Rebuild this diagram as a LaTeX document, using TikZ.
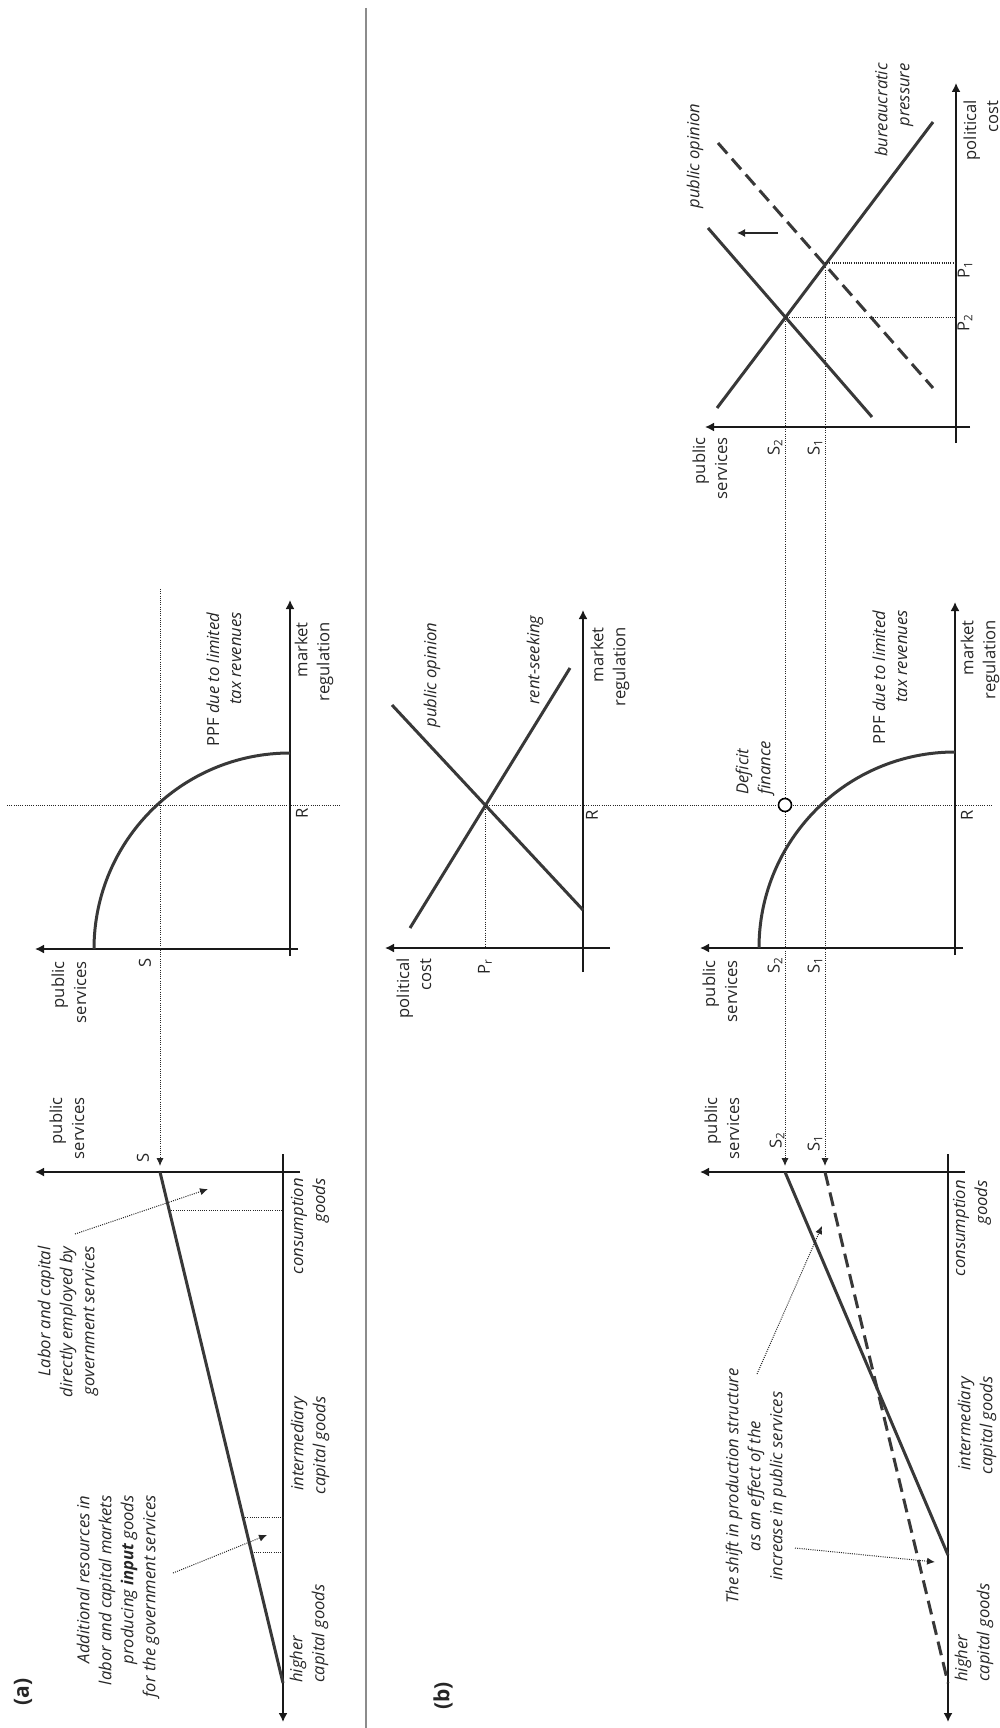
\documentclass[tikz,border=0pt]{standalone}
\usepackage{fontspec}
\setmainfont{Open Sans}
\usetikzlibrary{arrows.meta}
\newcommand{\figfs}{\fontsize{8.3}{11}\selectfont}
\begin{document}
\begin{tikzpicture}[x=0.5pt,y=-0.5pt,
  lbl/.style={rotate=90,inner sep=0pt,font=\figfs,text=black!85},
  ilbl/.style={lbl,font=\figfs\itshape},
  ax/.style={line width=0.8pt,black!90,-{Latex[length=4.5pt,width=4.5pt]}},
  curve/.style={line width=1.5pt,black!78},
  dcurve/.style={curve,dash pattern=on 7pt off 3.5pt},
  dot/.style={line width=0.5pt,black!85,dash pattern=on 0.5pt off 0.6pt},
  dotar/.style={dot,-{Latex[length=4pt,width=3.6pt]}},
]
\useasboundingbox (0,0) rectangle (1000,1728);

% divider
\coordinate (divT) at (366,8); \coordinate (divB) at (366,1728);
\draw[line width=1.1pt,black!45] (divT) -- (divB);

% ================= (a) production structure
\coordinate (aHo) at (300,1172); \coordinate (aHt) at (35,1172);
\coordinate (aVo) at (283,1154); \coordinate (aVt) at (283,1722);
\draw[ax] (aHo) -- (aHt);
\draw[ax] (aVo) -- (aVt);
\coordinate (aS) at (160,1172); \coordinate (aE) at (283,1683);
\draw[curve] (aS) -- (aE);
\coordinate (aD1a) at (169,1210); \coordinate (aD1b) at (283,1210);
\coordinate (aD2a) at (243,1517); \coordinate (aD2b) at (283,1517);
\coordinate (aD3a) at (251.5,1552); \coordinate (aD3b) at (283,1552);
\draw[dot] (aD1a) -- (aD1b);
\draw[dot] (aD2a) -- (aD2b);
\draw[dot] (aD3a) -- (aD3b);
\coordinate (aA1s) at (75,1234); \coordinate (aA1e) at (208,1189);
\coordinate (aA2s) at (173,1573); \coordinate (aA2e) at (267,1535);
\draw[dotar] (aA1s) -- (aA1e);
\draw[dotar] (aA2s) -- (aA2e);

\node[lbl,font=\fontsize{10.5}{12}\selectfont\bfseries] (labA) at (23,1692) {(a)};
\node[lbl,anchor=east,align=right] (aPS) at (67,1097) {public\\services};
\node[lbl] (aSl) at (143,1158) {S};
\node[ilbl,anchor=east,align=right] (aLab) at (68,1246) {Labor and capital\\directly employed by\\government services};
\node[ilbl,anchor=east,align=right] (aAdd) at (118,1495) {Additional resources in\\labor and capital markets\\producing \textbf{input} goods\\for the government services};
\node[ilbl,anchor=east,align=right] (aCons) at (310,1178) {consumption\\goods};
\node[ilbl,anchor=east,align=right] (aInt) at (310,1396) {intermediary\\capital goods};
\node[ilbl,anchor=west,align=left] (aHig) at (309,1683) {higher\\capital goods};

% ================= (a) PPF
\coordinate (pHo) at (298,949); \coordinate (pHt) at (35,949);
\coordinate (pVo) at (290,956); \coordinate (pVt) at (290,600);
\draw[ax] (pHo) -- (pHt);
\draw[ax] (pVo) -- (pVt);
\coordinate (pA) at (94,949); \coordinate (pB) at (290,753);
\draw[curve] (pA) .. controls (94,840.75) and (181.75,753) .. (pB);
\coordinate (pRl) at (7,805); \coordinate (pRr) at (340,805);
\draw[dot] (pRl) -- (pRr);
\coordinate (pSt) at (160,589); \coordinate (pSe) at (160,1166);
\draw[dotar] (pSt) -- (pSe);

\node[lbl,anchor=east,align=right] (pPS) at (69,961) {public\\services};
\node[lbl] (pSl) at (145,963) {S};
\node[lbl] (pRlab) at (302,813) {R};
\node[lbl,anchor=east,align=right] (pMR) at (314,622) {market\\regulation};
\node[lbl,anchor=east,align=right] (pPPF) at (224,612) {PPF \textit{due to limited}\\\textit{tax revenues}};

% ================= (b) political cost
\node[lbl,font=\fontsize{10.5}{12}\selectfont\bfseries] (labB) at (443,1696) {(b)};
\coordinate (qHo) at (610,948); \coordinate (qHt) at (385,948);
\coordinate (qVo) at (583,972); \coordinate (qVt) at (583,610);
\draw[ax] (qHo) -- (qHt);
\draw[ax] (qVo) -- (qVt);
\coordinate (qPO1) at (392,705); \coordinate (qPO2) at (583,910);
\coordinate (qRS1) at (410,928); \coordinate (qRS2) at (570,668);
\draw[curve] (qPO1) -- (qPO2);
\draw[curve] (qRS1) -- (qRS2);
\coordinate (qX) at (485,805); \coordinate (qXd) at (485,948); \coordinate (qXr) at (992,805);
\draw[dot] (qX) -- (qXd);
\draw[dot] (qX) -- (qXr);

\node[lbl,anchor=east,align=right] (qPC) at (414,958) {political\\cost};
\node[lbl] (qPr) at (485,967) {P\textsubscript{r}};
\node[lbl] (qR) at (592,815) {R};
\node[ilbl] (qPOl) at (432,675) {public opinion};
\node[ilbl] (qRSl) at (535,660) {rent-seeking};
\node[lbl,anchor=east,align=right] (qMR) at (610,627) {market\\regulation};

% ================= (b) PPF
\coordinate (rHo) at (963,948); \coordinate (rHt) at (700,948);
\coordinate (rVo) at (955,955); \coordinate (rVt) at (955,602);
\draw[ax] (rHo) -- (rHt);
\draw[ax] (rVo) -- (rVt);
\coordinate (rA) at (759,948); \coordinate (rB) at (955,752);
\draw[curve] (rA) .. controls (759,839.75) and (846.75,752) .. (rB);
\coordinate (s2t) at (785,317); \coordinate (s2e) at (785,1166);
\coordinate (s1t) at (825,263); \coordinate (s1e) at (825,1166);
\draw[dotar] (s2t) -- (s2e);
\draw[dotar] (s1t) -- (s1e);
\node[circle,draw,line width=0.8pt,fill=white,inner sep=0pt,minimum size=6.5pt] (deficit) at (785,805) {};

\node[lbl,anchor=east,align=right] (rPS) at (720,960) {public\\services};
\node[lbl] (rS2) at (775,965) {S\textsubscript{2}};
\node[lbl] (rS1) at (815,965) {S\textsubscript{1}};
\node[lbl] (rR) at (967,815) {R};
\node[ilbl,anchor=west,align=left] (rDef) at (755,795) {Deficit\\finance};
\node[lbl,anchor=east,align=right] (rPPF) at (890,610) {PPF \textit{due to limited}\\\textit{tax revenues}};
\node[lbl,anchor=east,align=right] (rMR) at (980,620) {market\\regulation};

% ================= (b) production structure
\coordinate (tHo) at (965,1172); \coordinate (tHt) at (700,1172);
\coordinate (tVo) at (948,1154); \coordinate (tVt) at (948,1722);
\draw[ax] (tHo) -- (tHt);
\draw[ax] (tVo) -- (tVt);
\coordinate (tS2) at (785,1172); \coordinate (tE2) at (948,1555);
\coordinate (tS1) at (825,1172); \coordinate (tE1) at (948,1683);
\draw[curve] (tS2) -- (tE2);
\draw[dcurve] (tS1) -- (tE1);
\coordinate (tA1s) at (757,1374); \coordinate (tA1e) at (822,1226);
\coordinate (tA2s) at (795,1548); \coordinate (tA2e) at (935,1562);
\draw[dotar] (tA1s) -- (tA1e);
\draw[dotar] (tA2s) -- (tA2e);

\node[lbl,anchor=east,align=right] (tPS) at (722,1097) {public\\services};
\node[lbl] (tS2l) at (777,1140) {S\textsubscript{2}};
\node[lbl] (tS1l) at (815,1143) {S\textsubscript{1}};
\node[ilbl,align=center] (tShift) at (756,1486) {The shift in production structure\\as an effect of the\\increase in public services};
\node[ilbl,anchor=east,align=right] (tCons) at (972,1180) {consumption\\goods};
\node[ilbl,anchor=east,align=right] (tInt) at (977,1376) {intermediary\\capital goods};
\node[ilbl,anchor=west,align=left] (tHig) at (974,1682) {higher\\capital goods};

% ================= (b) top right
\coordinate (uHo) at (970,427); \coordinate (uHt) at (705,427);
\coordinate (uVo) at (956,443); \coordinate (uVt) at (956,83);
\draw[ax] (uHo) -- (uHt);
\draw[ax] (uVo) -- (uVt);
\coordinate (uB1) at (717,408); \coordinate (uB2) at (933,122);
\coordinate (uO1) at (708,228); \coordinate (uO2) at (872,417);
\coordinate (uD1) at (718,143); \coordinate (uD2) at (933,388);
\draw[curve] (uB1) -- (uB2);
\draw[curve] (uO1) -- (uO2);
\draw[dcurve] (uD1) -- (uD2);
\coordinate (uP1) at (825,263); \coordinate (uP1a) at (956,263);
\coordinate (uP2) at (785,317); \coordinate (uP2a) at (956,317);
\draw[dot] (uP1) -- (uP1a);
\draw[dot] (uP2) -- (uP2a);
\coordinate (uAr1) at (778,233); \coordinate (uAr2) at (737,233);
\draw[line width=0.6pt,black!85,-{Latex[length=4pt,width=4pt]}] (uAr1) -- (uAr2);

\node[lbl,anchor=east,align=right] (uPS) at (710,437) {public\\services};
\node[lbl] (uS2) at (775,447) {S\textsubscript{2}};
\node[lbl] (uS1) at (815,447) {S\textsubscript{1}};
\node[lbl] (uP1l) at (965,270) {P\textsubscript{1}};
\node[lbl] (uP2l) at (965,323) {P\textsubscript{2}};
\node[ilbl] (uPOl) at (695,156) {public opinion};
\node[ilbl,anchor=east,align=right] (uBP) at (894,63) {bureaucratic\\pressure};
\node[lbl,anchor=east,align=right] (uPC) at (981,100) {political\\cost};
\end{tikzpicture}
\end{document}
